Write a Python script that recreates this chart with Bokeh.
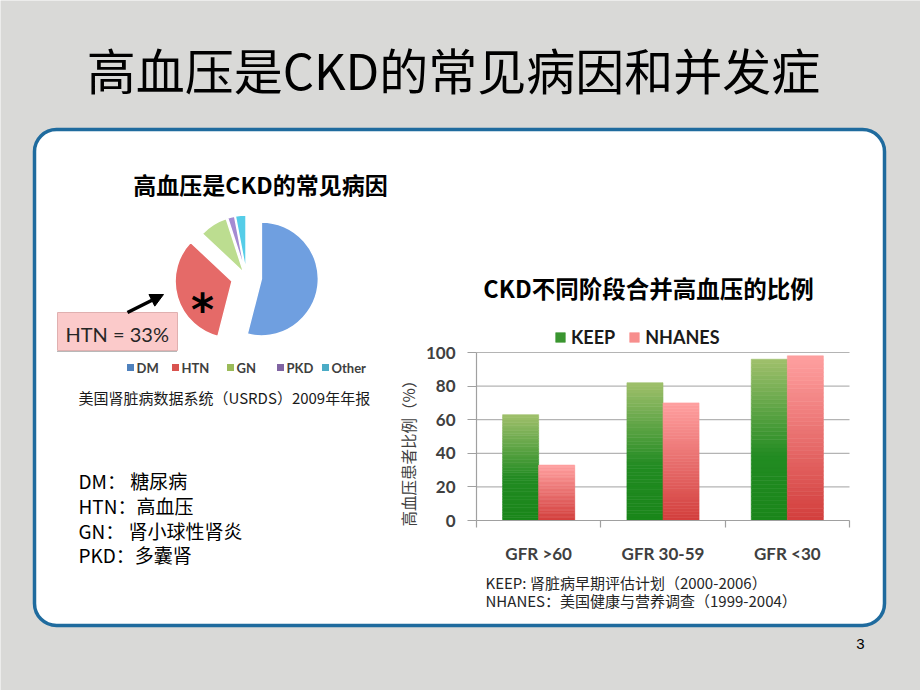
import numpy as np
from bokeh.plotting import figure
from bokeh.models import (Range1d, FixedTicker, ColumnDataSource, Arrow, NormalHead,
                          Legend, LegendItem, LinearAxis)
from bokeh.core.properties import value
from bokeh.embed import file_html
from bokeh.resources import INLINE

# ---------------- data ----------------
slide_title = "高血压是CKD的常见病因和并发症"
pie_title = "高血压是CKD的常见病因"
pie_labels = ["DM", "HTN", "GN", "PKD", "Other"]
pie_shares = [54, 33, 8, 2, 3]
pie_colors = ["#6f9fe0", "#e56a68", "#bcdd90", "#a48bd2", "#55cde8"]
pie_legend_colors = ["#4f81bd", "#d9534f", "#9bbb59", "#8064a2", "#4bacc6"]
pie_explode = [15, 15, 5, 5, 5]
pie_source_note = "美国肾脏病数据系统（USRDS）2009年年报"
htn_callout = "HTN = 33%"
definitions = ["DM： 糖尿病", "HTN：高血压", "GN：  肾小球性肾炎", "PKD：多囊肾"]

bar_title = "CKD不同阶段合并高血压的比例"
stages = ["GFR >60", "GFR 30-59", "GFR <30"]
series_names = ["KEEP", "NHANES"]
keep_values = [63, 82, 96]
nhanes_values = [33, 70, 98]
y_ticks = [0, 20, 40, 60, 80, 100]
y_label = "高血压患者比例（%）"
bar_notes = ["KEEP: 肾脏病早期评估计划（2000-2006）", "NHANES：美国健康与营养调查（1999-2004）"]
page_number = "3"

# ---------------- page geometry (screen pixels) ----------------
W, H = 920, 690
BG = "#d9d9d7"
CJK = value("Noto Sans CJK SC")


def Y(sy):
    return H - sy


p = figure(width=W, height=H, x_range=Range1d(0, W), y_range=Range1d(0, H),
           x_axis_type=None, y_axis_type=None, toolbar_location=None,
           output_backend="svg", min_border=0, outline_line_color=None,
           background_fill_color=BG, border_fill_color=BG)
p.grid.visible = False

# bar-chart plot area on the page
PLOT_L, PLOT_R, PLOT_B, PLOT_T = 476, 849, 520, 352
n_cat = len(stages)
cat_px = (PLOT_R - PLOT_L) / (2 * n_cat)
pct_px = (PLOT_B - PLOT_T) / 100.0
p.extra_x_ranges = {"cat": Range1d((0 - PLOT_L) / cat_px, (W - PLOT_L) / cat_px)}
p.extra_y_ranges = {"pct": Range1d((0 - Y(PLOT_B)) / pct_px, (H - Y(PLOT_B)) / pct_px)}


def txt(x, y, t, font, size, style="normal", align="left", color="black", baseline="middle",
        angle=0.0):
    p.text(x=[x], y=[Y(y)], text=[t], text_font=font, text_font_size=size,
           text_font_style=style, text_align=align, text_baseline=baseline,
           text_color=color, angle=angle)


# white rounded panel
p.quad(left=[34], right=[884], top=[Y(129)], bottom=[Y(625)], border_radius=22,
       fill_color="white", line_color="#1f6b9e", line_width=3.5)

# slide title
txt(453, 68, slide_title, CJK, "49px", align="center")

# ---------------- pie ----------------
txt(260, 183, pie_title, CJK, "23px", "bold", "center")
shares = np.array(pie_shares, dtype=float)
ends = np.cumsum(shares) / shares.sum() * 2 * np.pi
starts = ends - shares / shares.sum() * 2 * np.pi
mids = (starts + ends) / 2
ex = np.array(pie_explode, dtype=float)
cx, cy, R = 246, 276.5, 57
src = ColumnDataSource(dict(
    x=cx + ex * np.sin(mids), y=Y(cy) + ex * np.cos(mids),
    sa=np.pi / 2 - ends, ea=np.pi / 2 - starts, color=pie_colors))
p.wedge(x="x", y="y", radius=R, start_angle="sa", end_angle="ea", direction="anticlock",
        fill_color="color", line_color="white", line_width=1.5, source=src)
txt(202, 309, "*", value("DejaVu Sans"), "44px", "bold", "center", baseline="alphabetic")

# HTN call-out
p.quad(left=[57], right=[177], top=[Y(312)], bottom=[Y(350)],
       fill_color="#fbcaca", line_color="#e0b0b0", line_width=1)
p.segment(x0=[57], y0=[Y(351)], x1=[177], y1=[Y(351)], line_color="#707070",
          line_width=1.2, line_dash="1 1")
txt(65, 333, htn_callout, value("Lato"), "20px", color="#262626")
p.add_layout(Arrow(end=NormalHead(size=13, fill_color="black", line_color="black"),
                   x_start=127, y_start=Y(312), x_end=163, y_end=Y(294),
                   line_width=3.5, line_color="black"))

# pie legend
PIE_LEG_X = [130, 175, 230, 280, 325]
p.scatter(x=PIE_LEG_X, y=[Y(367)] * len(PIE_LEG_X), marker="square", size=7,
          fill_color=pie_legend_colors, line_color=None)
p.text(x=[v + 6 for v in PIE_LEG_X], y=[Y(367)] * len(PIE_LEG_X), text=pie_labels,
       text_font=value("Lato"), text_font_size="13px", text_font_style="bold",
       text_align="left", text_baseline="middle", text_color="#404040")

txt(78, 397, pie_source_note, CJK, "15px", color="#1a1a1a")
for d, yy in zip(definitions, (480, 505, 530, 554)):
    txt(78, yy, d, CJK, "19px")

# ---------------- bar chart ----------------
txt(648, 287, bar_title, CJK, "23.5px", "bold", "center")

# gridlines (under bars)
p.segment(x0=[0] * (len(y_ticks) - 1), x1=[2 * n_cat] * (len(y_ticks) - 1),
          y0=y_ticks[1:], y1=y_ticks[1:], x_range_name="cat", y_range_name="pct",
          line_color="#b4b4b4", line_width=1.2)


def lerp(c0, c1, t):
    return tuple(int(round(a + (b - a) * t)) for a, b in zip(c0, c1))


def green_at(t):  # t = fraction from top
    if t < 0.6:
        c = lerp((160, 192, 108), (34, 139, 34), t / 0.6)
    else:
        c = lerp((34, 139, 34), (26, 134, 26), (t - 0.6) / 0.4)
    return "#%02x%02x%02x" % c


def red_at(t):
    return "#%02x%02x%02x" % lerp((255, 160, 160), (210, 62, 60), t)


NS = 40
BAR_W = 0.58
renderers = []
for vals, off, grad in ((keep_values, -0.29, green_at), (nhanes_values, 0.29, red_at)):
    xs, bots, tops, cols = [], [], [], []
    for i, v in enumerate(vals):
        for j in range(NS):
            xs.append(2 * i + 1 + off)
            bots.append(v * j / NS)
            tops.append(v * (j + 1) / NS)
            cols.append(grad(1 - (j + 0.5) / NS))
    r = p.vbar(x=xs, bottom=bots, top=tops, width=BAR_W, fill_color=cols, line_color=cols,
               line_width=0.6, x_range_name="cat", y_range_name="pct")
    renderers.append(r)

legend = Legend(items=[LegendItem(label=series_names[0], renderers=[renderers[0]], index=NS // 2),
                       LegendItem(label=series_names[1], renderers=[renderers[1]], index=NS - 8)],
                orientation="horizontal", location=(554, Y(348)), border_line_color=None,
                background_fill_alpha=0, label_text_font="Lato", label_text_font_style="bold",
                label_text_font_size="18px", label_text_color="#1a1a1a",
                glyph_width=12, glyph_height=12, label_standoff=5, spacing=13,
                padding=0, margin=0, label_height=12)
p.add_layout(legend)

# x axis (category labels at centres, separators as minor ticks)
xax = LinearAxis(x_range_name="cat", fixed_location=Y(PLOT_B), bounds=(0, 2 * n_cat),
                 ticker=FixedTicker(ticks=[2 * i + 1 for i in range(n_cat)],
                                    minor_ticks=[2 * i for i in range(n_cat + 1)]),
                 major_label_overrides={2 * i + 1: s for i, s in enumerate(stages)},
                 major_tick_out=0, major_tick_in=0, major_tick_line_color=None,
                 minor_tick_out=7, minor_tick_in=0, minor_tick_line_color="#a0a0a0",
                 minor_tick_line_width=1.2, axis_line_color="#a0a0a0", axis_line_width=1.2,
                 major_label_text_font="Lato", major_label_text_font_style="bold",
                 major_label_text_font_size="17px", major_label_text_color="#404040",
                 major_label_standoff=15)
p.add_layout(xax, "below")

# y axis
yax = LinearAxis(y_range_name="pct", fixed_location=PLOT_L, bounds=(0, 100),
                 ticker=FixedTicker(ticks=y_ticks, minor_ticks=[]),
                 major_tick_out=9, major_tick_in=0, major_tick_line_color="#a0a0a0",
                 major_tick_line_width=1.2, axis_line_color="#a0a0a0", axis_line_width=1.2,
                 major_label_text_font="Lato", major_label_text_font_style="bold",
                 major_label_text_font_size="17px", major_label_text_color="#404040",
                 major_label_standoff=12)
p.add_layout(yax, "left")
txt(407, 449, y_label, CJK, "15.5px", align="center", color="#404040", angle=np.pi / 2)

for i, note in enumerate(bar_notes):
    txt(485, 582 + 18 * i, note, CJK, "15px", color="#262626")

txt(860, 643, page_number, value("Liberation Sans"), "15px", align="center")

open("out.html", "w").write(file_html(p, INLINE, "CKD"))
